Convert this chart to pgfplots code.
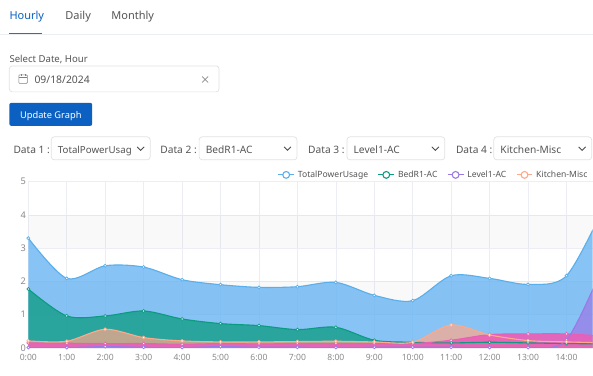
\documentclass[border=0pt]{standalone}
\usepackage{fontspec}
\setmainfont{Noto Sans}
\usepackage{pgfplots}
\usepackage{pgfplotstable}
\pgfplotsset{compat=1.18}
\definecolor{cBlue}{HTML}{5AAEEA}
\definecolor{cBlueF}{HTML}{5FB0F2}
\definecolor{cGreen}{HTML}{0B9B80}
\definecolor{cPurple}{HTML}{9A78E6}
\definecolor{cOrange}{HTML}{FFA98A}
\definecolor{cPink}{HTML}{EA5FB6}
\definecolor{gridc}{HTML}{EDEEF5}
\definecolor{tickc}{HTML}{8A8A8A}
\definecolor{uitext}{HTML}{555555}
\definecolor{uiborder}{HTML}{E2E2E2}
\definecolor{uiblue}{HTML}{0B60C2}
\pgfplotstableread{
h total bed level kitchen pink
0 3.30 1.77 0.01 0.21 0.15
1 2.09 0.96 0.01 0.20 0.14
2 2.47 0.96 0.04 0.56 0.13
3 2.43 1.11 0.02 0.31 0.13
4 2.05 0.87 0.01 0.21 0.11
5 1.90 0.73 0.04 0.18 0.13
6 1.82 0.67 0.02 0.18 0.12
7 1.84 0.55 0.02 0.19 0.13
8 1.97 0.62 0.01 0.20 0.13
9 1.58 0.23 0.02 0.18 0.13
10 1.42 0.17 0.02 0.17 0.13
11 2.17 0.15 0.02 0.69 0.23
12 2.09 0.17 0.01 0.39 0.40
13 1.91 0.15 0.01 0.22 0.42
14 2.17 0.13 0.24 0.18 0.42
15 4.30 0.12 2.60 0.15 0.35
}\datatab
\pgfplotsset{
  fillser/.style 2 args={smooth,tension=0.5,draw=none,fill=#1,fill opacity=#2,forget plot},
  lineser/.style={smooth,tension=0.5,line width=1.1pt,draw=#1,
    mark=*,mark size=1.5pt,mark options={draw=#1,fill=white,line width=0.7pt},forget plot},
  ringleg/.style={legend image code/.code={%
    \draw[#1,line width=1.1pt] (0pt,0pt)--(16pt,0pt);
    \draw[#1,line width=1.1pt,fill=white] (8pt,0pt) circle (3.4pt);}},
}
\newcommand{\selbox}[3]{%
  \draw[uiborder,rounded corners=3pt,line width=0.7pt] (#1,216) rectangle (#2,239);
  \node[anchor=base west,inner sep=0pt,text=uitext,font=\fontsize{10.2}{12}\selectfont] at (#1+6.5,222.8) {#3};
  \draw[black!70,line width=0.9pt] (#2-13,229)--(#2-9.5,225.5)--(#2-6,229);}
\newcommand{\lab}[2]{\node[anchor=base west,inner sep=0pt,text=uitext,font=\fontsize{10.2}{12}\selectfont] at (#1,222.8) {#2};}
\begin{document}
\begin{tikzpicture}
\begin{scope}[x=1pt,y=1pt]
\path[fill=white] (0,0) rectangle (593,376);
% tabs
\draw[gridc,line width=0.7pt] (0,342)--(593,342);
\draw[uiblue!90,line width=1.2pt] (9,342.4)--(42,342.4);
\node[anchor=base west,inner sep=0pt,text=uiblue,font=\fontsize{11}{13}\selectfont] at (9,356.3) {Hourly};
\node[anchor=base west,inner sep=0pt,text=uitext,font=\fontsize{11}{13}\selectfont] at (65,356.3) {Daily};
\node[anchor=base west,inner sep=0pt,text=uitext,font=\fontsize{11}{13}\selectfont] at (111,356.3) {Monthly};
% date
\node[anchor=base west,inner sep=0pt,text=uitext,font=\fontsize{9.6}{12}\selectfont] at (9,313.5) {Select Date, Hour};
\draw[uiborder,rounded corners=3pt,line width=0.7pt] (9,284) rectangle (219,310);
\draw[black!50,line width=0.6pt,rounded corners=0.8pt] (18.5,292.5) rectangle (27,301);
\draw[black!50,line width=0.6pt] (18.5,298.5)--(27,298.5) (20.8,300)--(20.8,302) (24.7,300)--(24.7,302);
\node[anchor=base west,inner sep=0pt,text=uitext,font=\fontsize{10.4}{12}\selectfont] at (34,292) {09/18/2024};
\draw[black!45,line width=0.7pt] (202,293.5)--(208,299.5) (202,299.5)--(208,293.5);
% button
\fill[uiblue,rounded corners=2pt] (9,250) rectangle (92,273);
\node[anchor=base,inner sep=0pt,text=white,font=\fontsize{9.3}{12}\selectfont] at (50.5,257.8) {Update Graph};
% selects
\lab{13}{Data 1 :}\selbox{51}{150}{\fontsize{9.7}{12}\selectfont TotalPowerUsag}
\lab{160}{Data 2 :}\selbox{199}{297}{BedR1-AC}
\lab{308}{Data 3 :}\selbox{347}{445}{Level1-AC}
\lab{456}{Data 4 :}\selbox{494}{592}{Kitchen-Misc}
\end{scope}
\begin{axis}[
  at={(28pt,27.7pt)},anchor=south west,
  scale only axis,width=565pt,height=166.5pt,
  xmin=0,xmax=14.68,ymin=0,ymax=5,
  axis x line*=bottom,axis y line*=left,
  x axis line style={draw=gridc,-},y axis line style={draw=none,-},
  major tick length=0pt,
  grid=both,major grid style={gridc,line width=0.6pt},
  xtick={0,...,14},
  xticklabels={0:00,1:00,2:00,3:00,4:00,5:00,6:00,7:00,8:00,9:00,10:00,11:00,12:00,13:00,14:00},
  ytick={0,...,5},
  /pgf/number format/assume math mode=true,
  tick label style={text=tickc,font=\fontsize{8.6}{10}\selectfont},
  xticklabel style={yshift=-3pt},
  yticklabel style={xshift=1pt,font=\fontsize{9.2}{10}\selectfont},
  clip=true,
  legend columns=4,
  legend style={at={(rel axis cs:0.9947,1.0)},anchor=south east,yshift=0.5pt,draw=none,fill=none,inner sep=0pt,
    font=\fontsize{8.6}{10}\selectfont,text=uitext,
    /tikz/every odd column/.style={column sep=1.2pt},
    /tikz/every even column/.style={column sep=7.6pt}},
  legend cell align=left,
]
\addplot[fill=black,fill opacity=0.025,draw=none,forget plot] coordinates {(0,1)(15,1)(15,2)(0,2)};
\addplot[fill=black,fill opacity=0.025,draw=none,forget plot] coordinates {(0,3)(15,3)(15,4)(0,4)};
\addlegendimage{ringleg=cBlue}\addlegendentry{TotalPowerUsage}
\addlegendimage{ringleg=cGreen}\addlegendentry{BedR1-AC}
\addlegendimage{ringleg=cPurple}\addlegendentry{Level1-AC}
\addlegendimage{ringleg=cOrange}\addlegendentry{Kitchen-Misc}
% areas
\addplot[fillser={cBlueF}{0.75}] table[x=h,y=total]{\datatab} \closedcycle;
\addplot[fillser={cGreen}{0.75}] table[x=h,y=bed]{\datatab} \closedcycle;
\addplot[fillser={cPurple}{0.7}] table[x=h,y=level]{\datatab} \closedcycle;
\addplot[fillser={cOrange}{0.7}] table[x=h,y=kitchen]{\datatab} \closedcycle;
\addplot[fillser={cPink}{0.9}] table[x=h,y=pink]{\datatab} \closedcycle;
% lines and marks on top
\addplot[lineser=cBlue] table[x=h,y=total]{\datatab};
\addplot[lineser=cGreen] table[x=h,y=bed]{\datatab};
\addplot[lineser=cPink] table[x=h,y=pink]{\datatab};
\addplot[lineser=cPurple] table[x=h,y=level]{\datatab};
\addplot[lineser=cOrange] table[x=h,y=kitchen]{\datatab};
\end{axis}
\end{tikzpicture}
\end{document}
